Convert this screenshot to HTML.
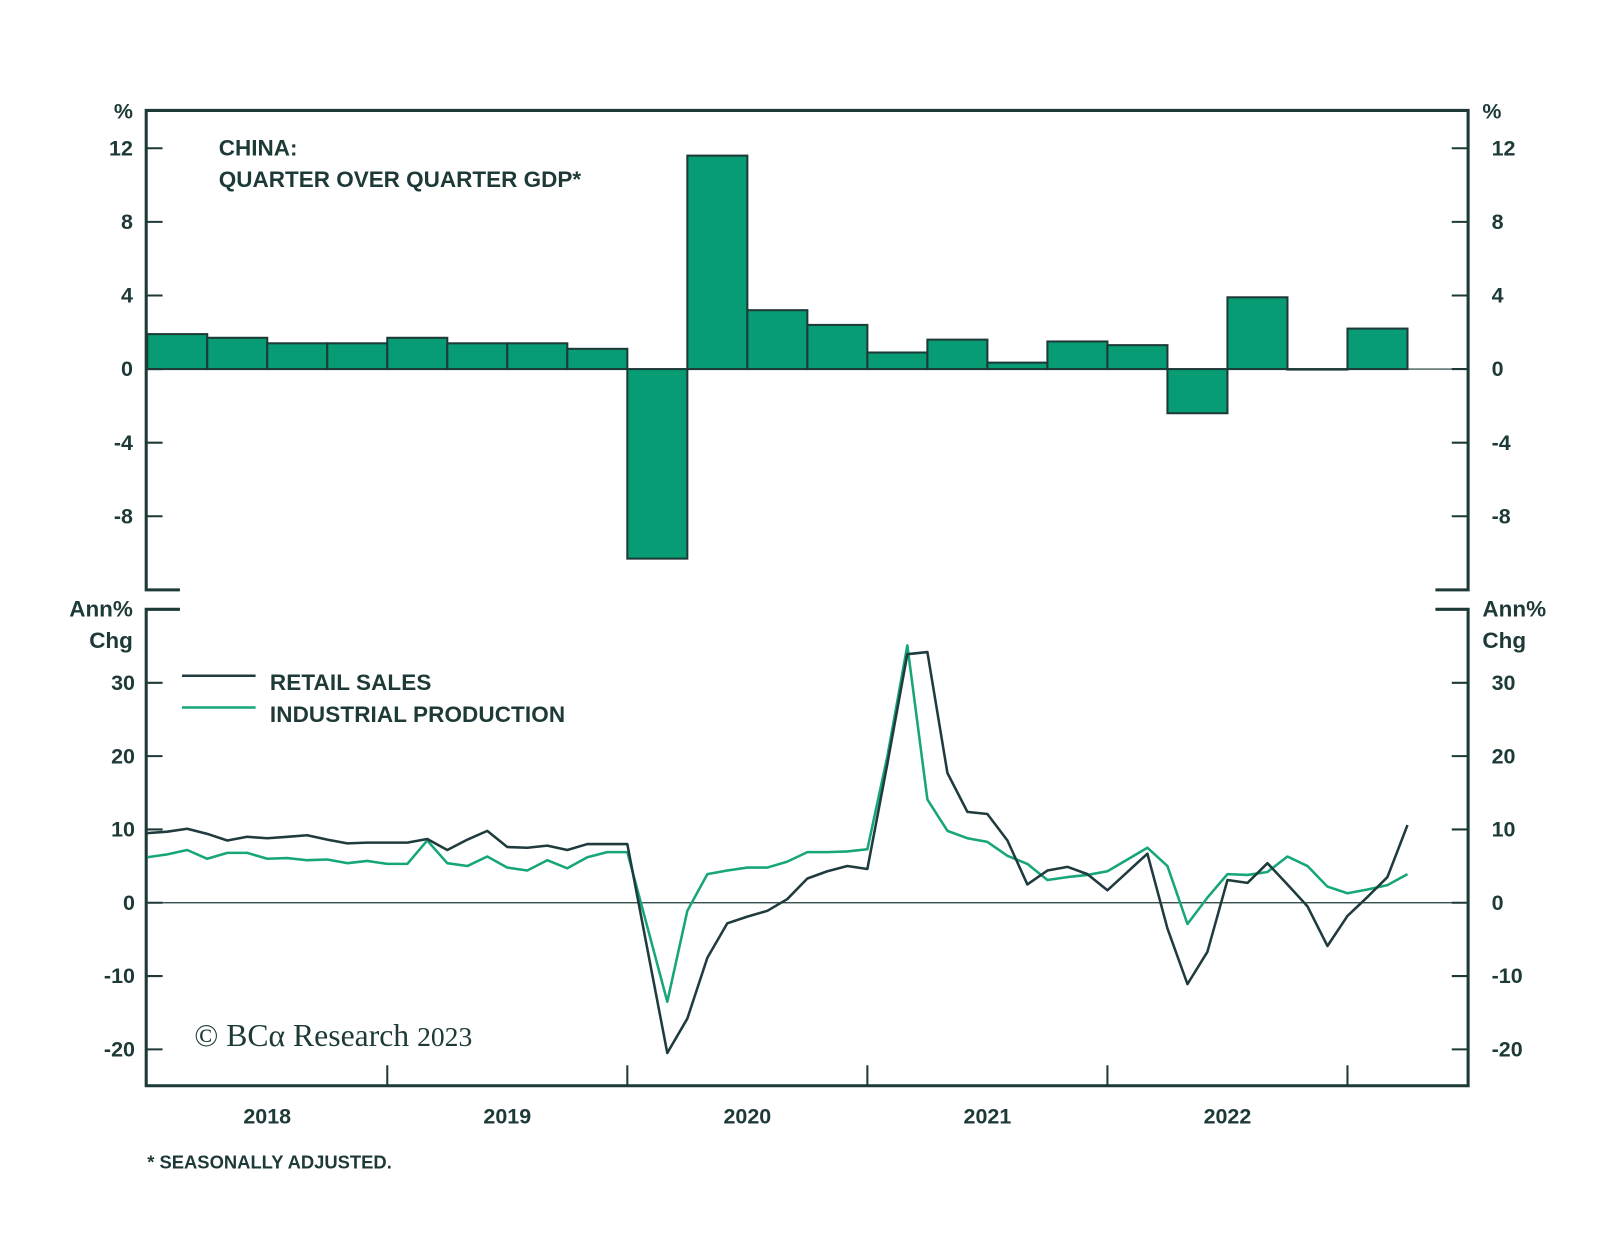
<!DOCTYPE html>
<html><head><meta charset="utf-8"><style>
body{margin:0;background:#fff}
svg text{font-family:"Liberation Sans",sans-serif;font-weight:bold;fill:#1d3a38}
</style></head><body>
<svg id="c" width="1600" height="1253" viewBox="0 0 1565 1225.6" xmlns="http://www.w3.org/2000/svg">
<g id="g"></g>
</svg>
<script>
const quarterCats=["2018Q1","2018Q2","2018Q3","2018Q4","2019Q1","2019Q2","2019Q3","2019Q4","2020Q1","2020Q2","2020Q3","2020Q4","2021Q1","2021Q2","2021Q3","2021Q4","2022Q1","2022Q2","2022Q3","2022Q4","2023Q1"];
const gdpValues=[1.9,1.7,1.4,1.4,1.7,1.4,1.4,1.1,-10.3,11.6,3.2,2.4,0.9,1.6,0.35,1.5,1.3,-2.4,3.9,0.0,2.2];
const retailSales=[9.5,9.7,10.1,9.4,8.5,9.0,8.8,9.0,9.2,8.6,8.1,8.2,8.2,8.2,8.7,7.2,8.6,9.8,7.6,7.5,7.8,7.2,8.0,8.0,8.0,-6.3,-20.5,-15.8,-7.5,-2.8,-1.9,-1.1,0.5,3.3,4.3,5.0,4.6,19,33.9,34.2,17.7,12.4,12.1,8.5,2.5,4.4,4.9,3.9,1.7,4.2,6.7,-3.5,-11.1,-6.7,3.1,2.7,5.4,2.5,-0.5,-5.9,-1.8,0.8,3.5,10.6];
const industrialProd=[6.2,6.6,7.2,6.0,6.8,6.8,6.0,6.1,5.8,5.9,5.4,5.7,5.3,5.3,8.5,5.4,5.0,6.3,4.8,4.4,5.8,4.7,6.2,6.9,6.9,-3.3,-13.5,-1.1,3.9,4.4,4.8,4.8,5.6,6.9,6.9,7.0,7.3,20,35.1,14.1,9.8,8.8,8.3,6.4,5.3,3.1,3.5,3.8,4.3,5.9,7.5,5.0,-2.9,0.7,3.9,3.8,4.2,6.3,5.0,2.2,1.3,1.8,2.4,3.9];
const topTicks=[12,8,4,0,-4,-8];
const botTicks=[30,20,10,0,-10,-20];
const yearLabels=["2018","2019","2020","2021","2022"];

const NS="http://www.w3.org/2000/svg",G=document.getElementById('g');
const C="#1d3a38",GR="#079c74";
function el(t,a,txt){const e=document.createElementNS(NS,t);for(const k in a)e.setAttribute(k,a[k]);if(txt!=null)e.textContent=txt;G.appendChild(e);return e;}
const L=143,R=1436,yearW=234.8,x0=144;
const xQ=i=>x0+i*yearW/4;
const xM=i=>x0+i*yearW/12;
const yT=v=>361-v*18;
const yB=v=>883-v*7.17;

gdpValues.forEach((v,i)=>{const y1=yT(Math.max(v,0)),y2=yT(Math.min(v,0));
 const b=el('rect',{x:xQ(i),y:y1,width:yearW/4,height:Math.max(y2-y1,0.5),fill:GR,stroke:C,'stroke-width':2});
 
 });
el('line',{x1:L,x2:R,y1:yT(0),y2:yT(0),stroke:C,'stroke-width':1});
el('line',{x1:L,x2:R,y1:yB(0),y2:yB(0),stroke:C,'stroke-width':1.2});

const fr=(d,n)=>{const p=el('path',{d:d,stroke:C,'stroke-width':3,fill:'none'});};
fr(`M176 577 H${L} V108 H${R} V577 H1404`,'top-panel-frame');
fr(`M176 596 H${L} V1062 H${R} V596 H1404`,'bottom-panel-frame');
topTicks.forEach(v=>{const y=yT(v);
 el('line',{x1:L,x2:L+16,y1:y,y2:y,stroke:C,'stroke-width':2});el('line',{x1:R-16,x2:R,y1:y,y2:y,stroke:C,'stroke-width':2});
 const a=el('text',{x:130,y:y+7,'text-anchor':'end','font-size':21},String(v));
 const b=el('text',{x:1459,y:y+7,'font-size':21},String(v));});
botTicks.forEach(v=>{const y=yB(v);
 el('line',{x1:L,x2:L+16,y1:y,y2:y,stroke:C,'stroke-width':2});el('line',{x1:R-16,x2:R,y1:y,y2:y,stroke:C,'stroke-width':2});
 const a=el('text',{x:132,y:y+7,'text-anchor':'end','font-size':21},String(v));
 const b=el('text',{x:1459,y:y+7,'font-size':21},String(v));});
yearLabels.forEach((t,i)=>{
 if(i>0)el('line',{x1:x0+i*yearW,x2:x0+i*yearW,y1:1042,y2:1062,stroke:C,'stroke-width':2});
 const a=el('text',{x:x0+i*yearW+yearW/2,y:1099,'text-anchor':'middle','font-size':21},t);});
el('line',{x1:x0+5*yearW,x2:x0+5*yearW,y1:1042,y2:1062,stroke:C,'stroke-width':2});

function line(arr,col,w,n){const d=arr.map((v,i)=>(i?'L':'M')+xM(i).toFixed(1)+' '+yB(v).toFixed(1)).join(' ');
 const p=el('path',{d:d,stroke:col,'stroke-width':w,fill:'none','stroke-linejoin':'round'});}
line(industrialProd,'#17a57a',2.5,'industrial-production-line');
line(retailSales,'#1f3b3e',2.5,'retail-sales-line');

const tx=(x,y,s,t,n,extra)=>{const a=el('text',Object.assign({x:x,y:y,'font-size':s},extra||{}),t);return a;};
tx(130,116,21,'%','top-left-unit',{'text-anchor':'end'});
tx(1450,116,21,'%','top-right-unit');
tx(130,603,22,'Ann%','bottom-left-unit-1',{'text-anchor':'end'});
tx(130,634,22,'Chg','bottom-left-unit-2',{'text-anchor':'end'});
tx(1450,603,22,'Ann%','bottom-right-unit-1');
tx(1450,634,22,'Chg','bottom-right-unit-2');
tx(214,152,22,'CHINA:','chart-title-1');
tx(214,183,22,'QUARTER OVER QUARTER GDP*','chart-title-2');
el('line',{x1:178,x2:250,y1:661,y2:661,stroke:'#1f3b3e','stroke-width':2.5});
el('line',{x1:178,x2:250,y1:692,y2:692,stroke:'#17a57a','stroke-width':2.5});
tx(264,675,22,'RETAIL SALES','legend-retail-sales',{'letter-spacing':'0.1'});
tx(264,706,22,'INDUSTRIAL PRODUCTION','legend-industrial-production',{'letter-spacing':'0.1'});
const w=tx(190,1023,31,'© BCα Research ','watermark');
w.style.fontFamily='"Liberation Serif",serif';w.style.fontWeight='normal';
const ws=document.createElementNS(NS,'tspan');ws.setAttribute('font-size','27');ws.textContent='2023';w.appendChild(ws);
tx(144,1143,18,'* SEASONALLY ADJUSTED.','footnote',{'letter-spacing':'0'});
</script>
</body></html>
